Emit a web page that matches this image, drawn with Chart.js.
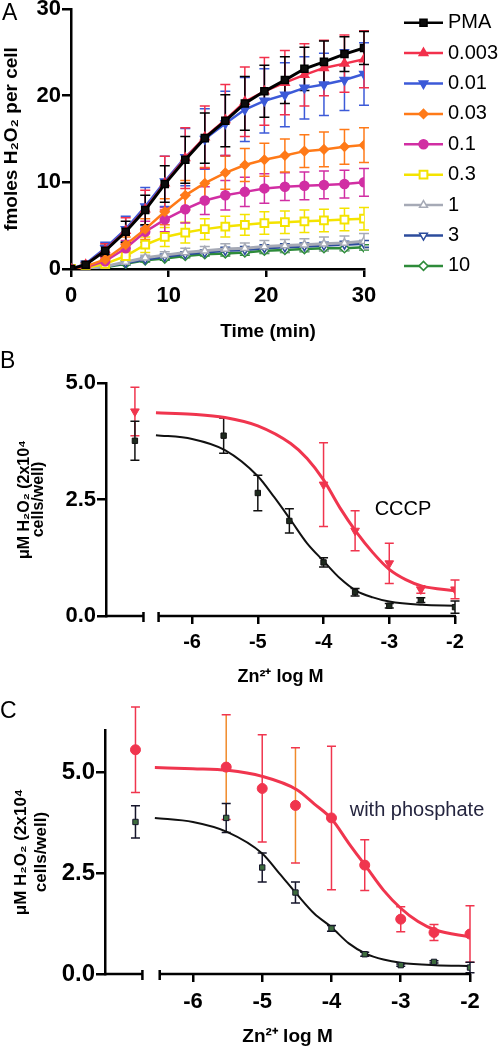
<!DOCTYPE html>
<html>
<head>
<meta charset="utf-8">
<script src="https://cdn.jsdelivr.net/npm/chart.js@4.4.1/dist/chart.umd.min.js"></script>
<style>
  body { margin: 0; background: #fff; width: 500px; height: 1050px; position: relative; overflow: hidden; }
  canvas { position: absolute; left: 0; }
  #chartA { top: 0; }
  #chartB { top: 345px; }
  #chartC { top: 690px; }
</style>
</head>
<body>
<canvas id="chartA" width="500" height="345"></canvas>
<canvas id="chartB" width="500" height="345"></canvas>
<canvas id="chartC" width="500" height="360"></canvas>
<script>
const FONT = "'Liberation Sans', Arial, Helvetica, sans-serif";

// ---- Panel A: H2O2 release over time, one series per Zn concentration ----
const timeMin = [0, 1.5, 3.5, 5.6, 7.6, 9.6, 11.7, 13.7, 15.8, 17.8, 19.8, 21.9, 23.9, 25.9, 28, 30];
const xTicksA = [0, 10, 20, 30];
const yTicksA = [0, 10, 20, 30];

const pma      = [0, 0.5, 2.1, 4.3, 6.8, 9.8, 12.6, 15.1, 17.1, 19.1, 20.5, 21.8, 23.1, 23.9, 24.8, 25.5];
const pmaErr   = [0, 0.2, 0.6, 1.2, 1.7, 2.1, 2.7, 2.9, 3.0, 3.1, 3.0, 2.7, 2.5, 2.4, 2.0, 1.9];
const zn0003   = [0, 0.5, 2.2, 4.4, 6.9, 9.9, 12.8, 15.2, 17.2, 19.3, 20.5, 21.5, 22.4, 23.2, 23.7, 24.2];
const zn0003E  = [0, 0.2, 0.7, 1.5, 2.2, 3.1, 3.5, 3.6, 4.1, 4.0, 3.9, 3.7, 3.6, 3.2, 3.3, 3.3];
const zn001    = [0, 0.6, 2.4, 4.6, 7.2, 10.1, 12.9, 15.0, 16.8, 18.4, 19.4, 20.1, 20.9, 21.3, 21.8, 22.5];
const zn001E   = [0, 0.2, 0.7, 1.5, 2.2, 2.9, 3.3, 3.5, 3.7, 3.7, 3.7, 3.7, 3.6, 3.6, 3.5, 3.6];
const zn003    = [0, 0.3, 1.1, 2.8, 4.6, 6.6, 8.5, 9.9, 11.1, 12.0, 12.6, 13.1, 13.6, 13.8, 14.1, 14.3];
const zn003E   = [0, 0.1, 0.4, 0.9, 1.2, 1.5, 1.7, 1.8, 1.9, 1.9, 1.9, 1.9, 1.9, 2.0, 2.0, 2.0];
const zn01     = [0, 0.2, 0.9, 2.4, 4.3, 5.7, 6.9, 7.9, 8.5, 8.9, 9.3, 9.5, 9.6, 9.7, 9.8, 10.0];
const zn01E    = [0, 0.1, 0.4, 0.9, 1.2, 1.4, 1.6, 1.6, 1.7, 1.7, 1.7, 1.6, 1.6, 1.6, 1.6, 1.6];
const zn03     = [0, 0.1, 0.6, 1.5, 2.8, 3.7, 4.2, 4.6, 4.9, 5.1, 5.3, 5.4, 5.5, 5.6, 5.7, 5.8];
const zn03E    = [0, 0.1, 0.3, 0.6, 0.9, 1.1, 1.2, 1.2, 1.2, 1.2, 1.3, 1.3, 1.3, 1.3, 1.3, 1.3];
const zn1      = [0, 0, 0.3, 0.8, 1.3, 1.6, 1.9, 2.1, 2.3, 2.4, 2.6, 2.7, 2.8, 2.9, 3.0, 3.2];
const zn1E     = [0, 0, 0.1, 0.2, 0.3, 0.4, 0.5, 0.5, 0.6, 0.6, 0.7, 0.7, 0.7, 0.8, 0.8, 0.9];
const zn3      = [0, 0, 0.3, 0.7, 1.1, 1.4, 1.7, 1.9, 2.1, 2.2, 2.4, 2.5, 2.6, 2.7, 2.8, 2.9];
const zn3E     = [0, 0, 0.1, 0.2, 0.2, 0.3, 0.3, 0.3, 0.4, 0.4, 0.4, 0.4, 0.4, 0.4, 0.4, 0.4];
const zn10     = [0, 0, 0.2, 0.6, 1.0, 1.2, 1.5, 1.7, 1.8, 1.9, 2.1, 2.2, 2.3, 2.4, 2.4, 2.5];
const zn10E    = [0, 0, 0.1, 0.1, 0.2, 0.2, 0.2, 0.2, 0.3, 0.3, 0.3, 0.3, 0.3, 0.3, 0.3, 0.3];

// ---- Panel B: dose response, with CCCP ----
const xTicksLog = [-6, -5, -4, -3, -2];
const yTicksB = [0, 2.5, 5];
const bX        = [-6.87, -5.52, -5.0, -4.52, -4.0, -3.52, -3.0, -2.52, -2.0]; // first = no Zn control
const bBlack    = [3.76, 3.87, 2.64, 2.04, 1.15, 0.51, 0.22, 0.34, 0.19];
const bBlackErr = [0.42, 0.38, 0.38, 0.26, 0.10, 0.08, 0.05, 0.05, 0.13];
const bRedX     = [-6.87, -4.0, -3.52, -3.0, -2.52, -2.0];
const bRed      = [4.39, 2.82, 1.83, 1.13, 0.57, 0.57];
const bRedErr   = [0.52, 0.90, 0.43, 0.43, 0.08, 0.20];
const bFitBlackX = [-6.55, -6.0, -5.5, -5.0, -4.75, -4.5, -4.25, -4.0, -3.75, -3.5, -3.25, -3.0, -2.5, -2.0];
const bFitBlackY = [3.88, 3.80, 3.56, 3.0, 2.55, 2.06, 1.56, 1.18, 0.81, 0.54, 0.40, 0.31, 0.24, 0.22];
const bFitRedX   = [-6.55, -6.0, -5.5, -5.0, -4.5, -4.25, -4.0, -3.75, -3.5, -3.25, -3.0, -2.75, -2.5, -2.0];
const bFitRedY   = [4.36, 4.33, 4.26, 4.08, 3.70, 3.38, 2.92, 2.32, 1.80, 1.36, 1.00, 0.78, 0.64, 0.54];

// ---- Panel C: dose response, with phosphate ----
const yTicksC = [0, 2.5, 5];
const cX        = [-6.83, -5.52, -5.0, -4.52, -4.0, -3.52, -3.0, -2.52, -2.0];
const cBlack    = [3.77, 3.87, 2.64, 2.02, 1.13, 0.49, 0.22, 0.30, 0.16];
const cBlackErr = [0.40, 0.36, 0.36, 0.26, 0.07, 0.05, 0.03, 0.03, 0.13];
const cRed      = [5.56, 5.13, 4.60, 4.18, 3.87, 2.70, 1.36, 1.03, 0.99];
const cRedErr   = [1.06, 1.30, 1.33, 1.43, 1.78, 0.63, 0.31, 0.20, 0.70];
const cFitBlackX = [-6.55, -6.0, -5.5, -5.0, -4.75, -4.5, -4.25, -4.0, -3.75, -3.5, -3.25, -3.0, -2.5, -2.0];
const cFitBlackY = [3.87, 3.77, 3.52, 2.99, 2.49, 1.98, 1.50, 1.16, 0.76, 0.50, 0.36, 0.28, 0.22, 0.20];
const cFitRedX   = [-6.55, -6.0, -5.5, -5.0, -4.5, -4.25, -4.0, -3.75, -3.5, -3.25, -3.0, -2.75, -2.5, -2.0];
const cFitRedY   = [5.12, 5.09, 5.05, 4.90, 4.57, 4.22, 3.85, 3.24, 2.66, 2.08, 1.63, 1.30, 1.09, 0.92];

function pts(xs, ys) {
  return xs.map((x, i) => ({x: x, y: ys[i]}));
}

// vertical error bars with caps, drawn under the lines
const errorBars = {
  id: 'errorBars',
  beforeDatasetsDraw(chart, args, opts) {
    const ctx = chart.ctx;
    const ys = chart.scales.y;
    const sets = chart.data.datasets;
    for (let i = sets.length - 1; i >= 0; i--) {
      const ds = sets[i];
      if (!ds.errors) continue;
      const meta = chart.getDatasetMeta(i);
      ctx.save();
      ctx.lineWidth = opts.width;
      meta.data.forEach((pt, j) => {
        const e = ds.errors[j];
        if (!e) return;
        const v = ds.data[j].y;
        const top = ys.getPixelForValue(v + e);
        const bot = ys.getPixelForValue(v - e);
        const c = opts.cap;
        ctx.strokeStyle = Array.isArray(ds.errorColor) ? ds.errorColor[j] : (ds.errorColor || ds.borderColor);
        ctx.beginPath();
        ctx.moveTo(pt.x, top); ctx.lineTo(pt.x, bot);
        ctx.stroke();
        ctx.strokeStyle = ds.errorCapColor || ctx.strokeStyle;
        ctx.beginPath();
        ctx.moveTo(pt.x - c, top); ctx.lineTo(pt.x + c, top);
        ctx.moveTo(pt.x - c, bot); ctx.lineTo(pt.x + c, bot);
        ctx.stroke();
      });
      ctx.restore();
    }
  }
};

// x axis with a gap between the control point and the log scale
const brokenAxis = {
  id: 'brokenAxis',
  afterDraw(chart, args, opts) {
    const {ctx, chartArea} = chart;
    const xs = chart.scales.x;
    const y = chartArea.bottom;
    const a = xs.getPixelForValue(opts.gap[0]);
    const b = xs.getPixelForValue(opts.gap[1]);
    ctx.save();
    ctx.strokeStyle = '#000';
    ctx.lineWidth = 2.5;
    ctx.beginPath();
    ctx.moveTo(chartArea.left - 1, y); ctx.lineTo(a, y);
    ctx.moveTo(b, y); ctx.lineTo(chartArea.right + 1, y);
    ctx.moveTo(a, y - 4); ctx.lineTo(a, y + 6);
    ctx.moveTo(b, y - 4); ctx.lineTo(b, y + 6);
    ctx.stroke();
    ctx.restore();
  }
};

const panelText = {
  id: 'panelText',
  afterDraw(chart, args, opts) {
    const ctx = chart.ctx;
    ctx.save();
    (opts.items || []).forEach(it => {
      ctx.font = it.font;
      ctx.fillStyle = it.color || '#000';
      ctx.textAlign = it.align || 'left';
      ctx.textBaseline = 'middle';
      ctx.fillText(it.text, it.x, it.y);
    });
    ctx.restore();
  }
};

// legend with a line sample and the marker, like the prism legend
const lineLegend = {
  id: 'lineLegend',
  afterDraw(chart, args, opts) {
    const ctx = chart.ctx;
    ctx.save();
    chart.data.datasets.forEach((ds, i) => {
      const y = opts.top + i * opts.step;
      ctx.strokeStyle = ds.borderColor;
      ctx.lineWidth = 2.5;
      ctx.beginPath();
      ctx.moveTo(opts.x0, y); ctx.lineTo(opts.x1, y);
      ctx.stroke();
      ctx.fillStyle = ds.pointBackgroundColor;
      ctx.strokeStyle = ds.pointBorderColor;
      ctx.lineWidth = ds.pointBorderWidth;
      Chart.helpers.drawPoint(ctx, {
        pointStyle: ds.pointStyle, rotation: ds.pointRotation || 0,
        radius: ds.pointRadius, borderWidth: ds.pointBorderWidth
      }, (opts.x0 + opts.x1) / 2, y);
      ctx.fillStyle = '#000';
      ctx.font = opts.font;
      ctx.textAlign = 'left';
      ctx.textBaseline = 'middle';
      ctx.fillText(ds.label, opts.textX, y);
    });
    ctx.restore();
  }
};

function setTicks(list) {
  return (scale) => { scale.ticks = list.map(v => ({value: v})); };
}

function axisLines(tickLen, showBorder) {
  return {
    border: {display: showBorder, color: '#000', width: 2.5},
    grid: {display: true, drawOnChartArea: false, drawTicks: true, tickLength: tickLen, color: '#000', lineWidth: 2.5}
  };
}

function seriesA(label, vals, errs, color, style, opts) {
  return Object.assign({
    label: label,
    data: pts(timeMin, vals),
    errors: errs,
    borderColor: color,
    borderWidth: 2.5,
    pointStyle: style,
    pointRotation: 0,
    pointRadius: 4.5,
    pointBackgroundColor: color,
    pointBorderColor: color,
    pointBorderWidth: 1.5,
    tension: 0,
    fill: false
  }, opts || {});
}

const baseOpts = {
  responsive: false,
  animation: false,
  devicePixelRatio: 1,
  events: []
};

new Chart(document.getElementById('chartA'), {
  type: 'line',
  data: {
    datasets: [
      seriesA('PMA', pma, pmaErr, '#000000', 'rect', {borderWidth: 3, pointRadius: 5, pointBackgroundColor: '#0c0c0c'}),
      seriesA('0.003', zn0003, zn0003E, '#f2304c', 'triangle', {pointRadius: 5}),
      seriesA('0.01', zn001, zn001E, '#3c5ad8', 'triangle', {pointRadius: 5, pointRotation: 180}),
      seriesA('0.03', zn003, zn003E, '#ff7a18', 'rectRot'),
      seriesA('0.1', zn01, zn01E, '#d12ea3', 'circle'),
      seriesA('0.3', zn03, zn03E, '#f4e300', 'rect', {pointRadius: 5.5, pointBackgroundColor: '#ffffff', pointBorderWidth: 2}),
      seriesA('1', zn1, zn1E, '#a6aab6', 'triangle', {borderWidth: 3, pointBackgroundColor: '#ffffff', pointBorderWidth: 1.5}),
      seriesA('3', zn3, zn3E, '#2c4c9c', 'triangle', {pointRotation: 180, pointBackgroundColor: '#ffffff'}),
      seriesA('10', zn10, zn10E, '#2e8b3a', 'rectRot', {pointBackgroundColor: '#ffffff'})
    ]
  },
  options: Object.assign({}, baseOpts, {
    layout: {padding: {left: 0, top: 9, right: 136, bottom: 0}},
    scales: {
      x: Object.assign({
        type: 'linear', min: 0, max: 30,
        afterBuildTicks: setTicks(xTicksA),
        afterFit: (s) => { s.height = 76; },
        ticks: {color: '#000', padding: 6, maxRotation: 0, font: {family: FONT, size: 22, weight: 'bold'}}
      }, axisLines(8, true)),
      y: Object.assign({
        min: 0, max: 30,
        afterBuildTicks: setTicks(yTicksA),
        afterFit: (s) => { s.width = 71; },
        ticks: {color: '#000', padding: 1, font: {family: FONT, size: 22, weight: 'bold', lineHeight: 0.7}},
        title: {display: true, text: 'fmoles H₂O₂ per cell', color: '#000',
                font: {family: FONT, size: 19, weight: 'bold'}, padding: {top: 0, bottom: 0}}
      }, axisLines(9, true))
    },
    plugins: {
      legend: {display: false},
      tooltip: {enabled: false},
      errorBars: {cap: 5, width: 1.5},
      lineLegend: {x0: 404, x1: 443, top: 22.7, step: 30.4, textX: 448, font: '20px ' + FONT},
      panelText: {items: [
        {text: 'A', x: 2, y: 14, font: '23px ' + FONT},
        {text: 'Time (min)', x: 268, y: 332, align: 'center', font: 'bold 19px ' + FONT}
      ]}
    }
  }),
  plugins: [errorBars, lineLegend, panelText]
});

function doseChart(id, cfg) {
  return new Chart(document.getElementById(id), {
    type: 'line',
    data: {datasets: cfg.datasets},
    options: Object.assign({}, baseOpts, {
      layout: {padding: {left: 0, top: cfg.top, right: cfg.right, bottom: 0}},
      scales: {
        x: Object.assign({
          type: 'linear', min: cfg.xMin, max: -2,
          afterBuildTicks: setTicks(xTicksLog),
          afterFit: (s) => { s.height = cfg.xHeight; },
          ticks: {color: '#000', padding: cfg.xPad, maxRotation: 0,
                  font: {family: FONT, size: cfg.xFont, weight: 'bold'}},
          title: {display: true, text: 'Zn²⁺ log M', color: '#000',
                  font: {family: FONT, size: cfg.titleFont, weight: 'bold'}, padding: {top: 0, bottom: cfg.titlePad}}
        }, axisLines(8, false)),
        y: Object.assign({
          min: 0, max: cfg.yMax,
          afterBuildTicks: setTicks(cfg.yTicks),
          afterFit: (s) => { s.width = cfg.yWidth; },
          ticks: {color: '#000', padding: 1, callback: (v) => v.toFixed(1),
                  font: {family: FONT, size: cfg.yFont, weight: 'bold', lineHeight: 0.7}},
          title: {display: true, text: ['μM H₂O₂ (2x10⁴', 'cells/well)'], color: '#000',
                  font: {family: FONT, size: cfg.yTitleFont, weight: 'bold', lineHeight: cfg.yTitleLH},
                  padding: {top: cfg.yTitlePad, bottom: 0}}
        }, axisLines(9, true))
      },
      plugins: {
        legend: {display: false},
        tooltip: {enabled: false},
        errorBars: {cap: 4.5, width: 1.5},
        brokenAxis: {gap: cfg.gap},
        panelText: {items: cfg.text}
      }
    }),
    plugins: [errorBars, brokenAxis, panelText]
  });
}

function pointsSet(xs, ys, errs, color, fill, style, radius, rot) {
  return {
    data: pts(xs, ys), errors: errs, showLine: false,
    borderColor: color, pointStyle: style, pointRotation: rot || 0, pointRadius: radius,
    pointBackgroundColor: fill, pointBorderColor: color, pointBorderWidth: 1
  };
}

function fitSet(xs, ys, color, width) {
  return {
    data: pts(xs, ys), borderColor: color, borderWidth: width, pointRadius: 0,
    cubicInterpolationMode: 'monotone', fill: false
  };
}

doseChart('chartB', {
  top: 38, right: 45, xMin: -7.31, yMax: 5, yTicks: yTicksB,
  xHeight: 74, xPad: 6, xFont: 20, titleFont: 18, titlePad: 2.5,
  yWidth: 106, yFont: 22, yTitleFont: 16, yTitleLH: 0.85, yTitlePad: 18,
  gap: [-6.74, -6.51],
  datasets: [
    pointsSet(bX, bBlack, bBlackErr, '#111111', '#1e2a1e', 'rect', 3.8),
    pointsSet(bRedX, bRed, bRedErr, '#f0354e', '#f0354e', 'triangle', 5, 180),
    fitSet(bFitBlackX, bFitBlackY, '#111111', 2),
    fitSet(bFitRedX, bFitRedY, '#f0354e', 3)
  ],
  text: [
    {text: 'B', x: 0, y: 17, font: '23px ' + FONT},
    {text: 'CCCP', x: 403, y: 164, align: 'center', font: '20px ' + FONT}
  ]
});

const cRedSet = pointsSet(cX, cRed, cRedErr, '#f0354e', '#f0354e', 'circle', 5);
cRedSet.errorColor = ['#f0354e', '#f08a2a', '#f0354e', '#f08a2a', '#f0354e', '#f0354e', '#f0354e', '#f0354e', '#f0354e'];
cRedSet.errorCapColor = '#f0354e';

doseChart('chartC', {
  top: 40, right: 30, xMin: -7.27, yMax: 6.05, yTicks: yTicksC,
  xHeight: 76, xPad: 7, xFont: 22, titleFont: 19, titlePad: 1.9,
  yWidth: 105, yFont: 24, yTitleFont: 17, yTitleLH: 1.15, yTitlePad: 12,
  gap: [-6.73, -6.48],
  datasets: [
    pointsSet(cX, cBlack, cBlackErr, '#15152a', '#3d6b3d', 'rect', 3.8),
    cRedSet,
    fitSet(cFitBlackX, cFitBlackY, '#111111', 2),
    fitSet(cFitRedX, cFitRedY, '#f0354e', 3)
  ],
  text: [
    {text: 'C', x: 0, y: 22, font: '23px ' + FONT},
    {text: 'with phosphate', x: 417, y: 120, align: 'center', font: '20px ' + FONT, color: '#25253f'}
  ]
});
</script>
</body>
</html>
